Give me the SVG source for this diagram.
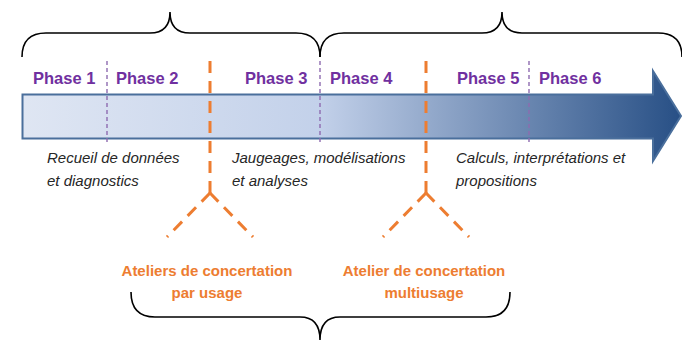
<svg xmlns="http://www.w3.org/2000/svg" width="682" height="340" viewBox="0 0 682 340">
<style>
.brace{fill:none;stroke:#000;stroke-width:1.6}
.ph{font-family:"Liberation Sans",Arial,sans-serif;font-weight:bold;font-size:16.5px;fill:#7030a0}
.sep{stroke:#8e6bb0;stroke-width:1.4;stroke-dasharray:4 3}
.or{stroke:#ed7d31;stroke-width:3;stroke-dasharray:12 8;fill:none}
.ot{font-family:"Liberation Sans",Arial,sans-serif;font-weight:bold;font-size:15px;fill:#ed7d31;text-anchor:middle}
.it{font-family:"Liberation Sans",Arial,sans-serif;font-style:italic;font-size:15px;fill:#262626}
</style>
<defs>
<linearGradient id="g" x1="22" y1="0" x2="682" y2="0" gradientUnits="userSpaceOnUse">
<stop offset="0" stop-color="#dfe6f3"/>
<stop offset="0.45" stop-color="#c3d1ea"/>
<stop offset="1" stop-color="#274f85"/>
</linearGradient>
</defs>
<g id="arrow">
<path d="M22.5,94.5 H653 V71 L681,116 L653,161 V138.5 H22.5 Z" fill="url(#g)" stroke="#4a6f9c" stroke-width="2"/>
</g>
<g id="braces">
<path class="brace" d="M22,57 Q22,33 46,33 H150 Q170,33 170,12 Q170,33 190,33 H296 Q320,33 320,57"/>
<path class="brace" d="M320,57 Q320,33 344,33 H482 Q502,33 502,12 Q502,33 522,33 H658 Q682,33 682,57"/>
<path class="brace" d="M131,292 Q131,317 155,317 H300 Q320,317 320,340 Q320,317 340,317 H486 Q510,317 510,292"/>
</g>
<g id="separators">
<line class="sep" x1="107" y1="61" x2="107" y2="145"/>
<line class="sep" x1="320" y1="61" x2="320" y2="145"/>
<line class="sep" x1="529" y1="61" x2="529" y2="145"/>
</g>
<g id="phases">
<text class="ph" x="33" y="84">Phase 1</text>
<text class="ph" x="116" y="84">Phase 2</text>
<text class="ph" x="245" y="84">Phase 3</text>
<text class="ph" x="330" y="84">Phase 4</text>
<text class="ph" x="457" y="84">Phase 5</text>
<text class="ph" x="539" y="84">Phase 6</text>
</g>
<g id="connectors">
<path class="or" d="M210,61 V193"/>
<path class="or" d="M210,193 L167,237 M210,193 L253,237"/>
<path class="or" d="M426,61 V193"/>
<path class="or" d="M426,193 L383,237 M426,193 L469,237"/>
</g>
<g id="desc1"><text class="it" x="47" y="163">Recueil de données</text><text class="it" x="47" y="186">et diagnostics</text></g>
<g id="desc2"><text class="it" x="232" y="163">Jaugeages, modélisations</text><text class="it" x="232" y="186">et analyses</text></g>
<g id="desc3"><text class="it" x="456" y="163">Calculs, interprétations et</text><text class="it" x="456" y="186">propositions</text></g>
<g id="atelier1"><text class="ot" x="207" y="276">Ateliers de concertation</text><text class="ot" x="207" y="298">par usage</text></g>
<g id="atelier2"><text class="ot" x="424" y="276">Atelier de concertation</text><text class="ot" x="424" y="298">multiusage</text></g>
</svg>
